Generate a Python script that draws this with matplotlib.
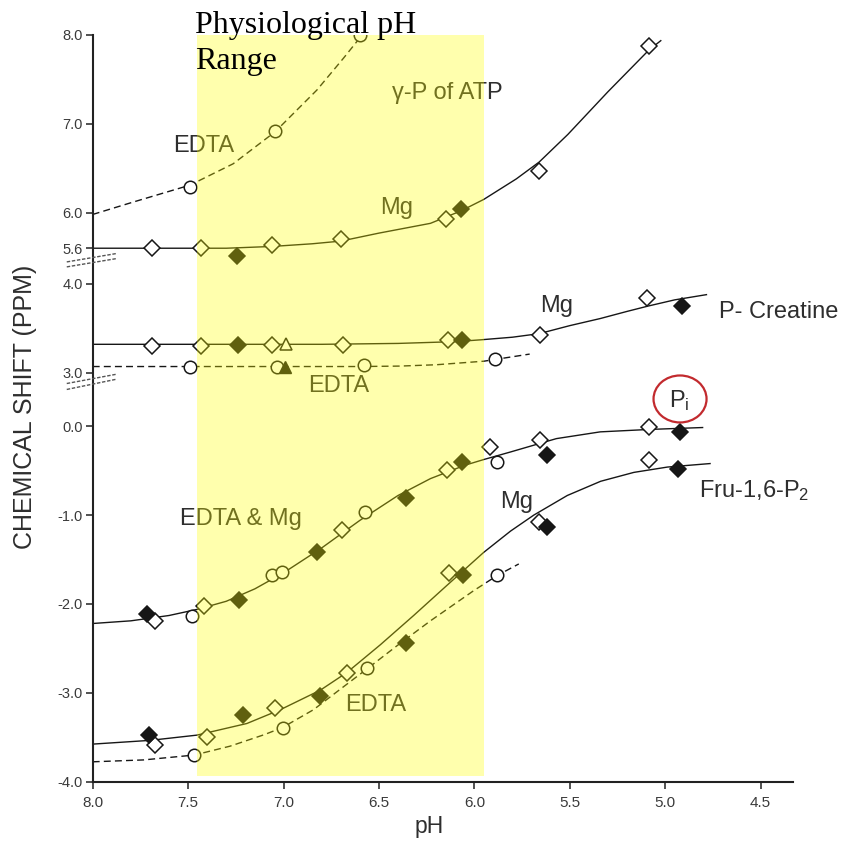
import numpy as np
import matplotlib
matplotlib.use("Agg")
import matplotlib.pyplot as plt
from matplotlib.patches import Ellipse

# ---------------- data (pH, chemical shift in ppm) ----------------
# gamma-P of ATP, Mg
atp_mg_open_ph = [7.69, 7.43, 7.06, 6.70, 6.15, 5.66, 5.085]
atp_mg_open_ppm = [5.60, 5.60, 5.64, 5.70, 5.93, 6.47, 7.88]
atp_mg_fill_ph = [7.245, 6.07]
atp_mg_fill_ppm = [5.51, 6.04]
atp_mg_curve_ph = [8.0, 7.6, 7.3, 7.06, 6.85, 6.70, 6.50, 6.23, 6.07, 5.95, 5.78, 5.66, 5.51, 5.30, 5.085, 5.02]
atp_mg_curve_ppm = [5.60, 5.60, 5.60, 5.62, 5.65, 5.68, 5.77, 5.88, 6.02, 6.15, 6.38, 6.57, 6.88, 7.36, 7.83, 7.94]
# gamma-P of ATP, EDTA
atp_edta_circ_ph = [7.49, 7.044, 6.60]
atp_edta_circ_ppm = [6.29, 6.92, 8.0]
atp_edta_curve_ph = [8.0, 7.787, 7.49, 7.264, 7.044, 6.825, 6.685, 6.58, 6.52]
atp_edta_curve_ppm = [5.98, 6.12, 6.31, 6.55, 6.91, 7.38, 7.74, 8.02, 8.2]

# P-Creatine, Mg
pcr_mg_open_ph = [7.69, 7.43, 7.06, 6.69, 6.14, 5.657, 5.093]
pcr_mg_open_ppm = [3.30, 3.30, 3.31, 3.31, 3.37, 3.43, 3.84]
pcr_mg_fill_ph = [7.236, 6.064, 4.91]
pcr_mg_fill_ppm = [3.31, 3.37, 3.75]
pcr_mg_tri_ph = [6.985]
pcr_mg_tri_ppm = [3.32]
pcr_mg_curve_ph = [8.0, 6.8, 6.4, 6.1, 5.97, 5.8, 5.66, 5.5, 5.34, 5.2, 5.09, 4.95, 4.78]
pcr_mg_curve_ppm = [3.32, 3.32, 3.33, 3.35, 3.37, 3.40, 3.44, 3.53, 3.61, 3.69, 3.75, 3.82, 3.88]
# P-Creatine, EDTA
pcr_edta_circ_ph = [7.49, 7.035, 6.58, 5.89]
pcr_edta_circ_ppm = [3.07, 3.07, 3.09, 3.16]
pcr_edta_tri_ph = [6.99]
pcr_edta_tri_ppm = [3.07]
pcr_edta_curve_ph = [8.0, 7.0, 6.6, 6.39, 6.2, 5.95, 5.71]
pcr_edta_curve_ppm = [3.07, 3.07, 3.07, 3.075, 3.09, 3.13, 3.21]

# Pi, EDTA & Mg
pi_open_ph = [7.673, 7.416, 6.694, 6.143, 5.919, 5.657, 5.085]
pi_open_ppm = [-2.19, -2.025, -1.17, -0.495, -0.233, -0.157, -0.008]
pi_fill_ph = [7.717, 7.231, 6.825, 6.36, 6.064, 5.618, 4.922]
pi_fill_ppm = [-2.115, -1.957, -1.414, -0.81, -0.40, -0.326, -0.064]
pi_circ_ph = [7.481, 7.061, 7.008, 6.571, 5.88]
pi_circ_ppm = [-2.137, -1.676, -1.639, -0.964, -0.40]
pi_curve_ph = [8.0, 7.8, 7.6, 7.45, 7.3, 7.15, 7.0, 6.8, 6.6, 6.4, 6.23, 6.05, 5.95, 5.81, 5.57, 5.34, 5.085, 4.80]
pi_curve_ppm = [-2.22, -2.19, -2.13, -2.06, -1.97, -1.83, -1.65, -1.37, -1.06, -0.78, -0.59, -0.44, -0.375, -0.29, -0.14, -0.064, -0.037, -0.015]

# Fru-1,6-P2, Mg
fru_mg_open_ph = [7.673, 7.402, 7.044, 6.667, 6.134, 5.662, 5.085]
fru_mg_open_ppm = [-3.588, -3.495, -3.176, -2.775, -1.65, -1.076, -0.375]
fru_mg_fill_ph = [7.705, 7.213, 6.811, 6.356, 6.059, 5.618, 4.931]
fru_mg_fill_ppm = [-3.476, -3.251, -3.037, -2.444, -1.676, -1.132, -0.487]
fru_mg_curve_ph = [8.0, 7.7, 7.454, 7.192, 7.017, 6.807, 6.667, 6.493, 6.318, 6.143, 5.951, 5.81, 5.688, 5.513, 5.338, 5.164, 4.988, 4.761]
fru_mg_curve_ppm = [-3.577, -3.535, -3.476, -3.345, -3.19, -2.97, -2.77, -2.46, -2.13, -1.79, -1.42, -1.18, -1.0, -0.78, -0.62, -0.52, -0.46, -0.42]
# Fru-1,6-P2, EDTA
fru_edta_circ_ph = [7.467, 7.005, 6.562, 5.88]
fru_edta_circ_ppm = [-3.70, -3.394, -2.72, -1.676]
fru_edta_curve_ph = [8.0, 7.734, 7.467, 7.28, 7.1, 7.005, 6.843, 6.703, 6.562, 6.405, 6.23, 6.003, 5.88, 5.767]
fru_edta_curve_ppm = [-3.776, -3.755, -3.70, -3.60, -3.47, -3.39, -3.19, -2.96, -2.73, -2.47, -2.19, -1.85, -1.68, -1.55]

# physiological pH band
band_ph = [7.454, 5.951]

x_ticks = [8.0, 7.5, 7.0, 6.5, 6.0, 5.5, 5.0, 4.5]
x_ticklabels = ["8.0", "7.5", "7.0", "6.5", "6.0", "5.5", "5.0", "4.5"]
y_ticks = [-4.0, -3.0, -2.0, -1.0, 0.0, 3.0, 4.0, 5.6, 6.0, 7.0, 8.0]
y_ticklabels = ["-4.0", "-3.0", "-2.0", "-1.0", "0.0", "3.0", "4.0", "5.6", "6.0", "7.0", "8.0"]

# ---------------- broken y axis as a piecewise-linear scale ----------------
V_KNOTS = [-50.0, 0.35, 2.75, 4.2, 5.4, 50.0]
D_KNOTS = [-50.0, 0.35, 0.351, 1.801, 1.802, 46.402]


def fwd(v):
    return np.interp(np.asarray(v, dtype=float), V_KNOTS, D_KNOTS)


def inv(d):
    return np.interp(np.asarray(d, dtype=float), D_KNOTS, V_KNOTS)


plt.rcParams["font.family"] = ["Liberation Sans", "DejaVu Sans"]
plt.rcParams["mathtext.fontset"] = "custom"
plt.rcParams["mathtext.rm"] = "Liberation Sans"
plt.rcParams["mathtext.it"] = "Liberation Sans:italic"

INK = "#161616"
TXT = "#2e2e2e"

fig = plt.figure(figsize=(8.56, 8.41), dpi=100)
ax = fig.add_axes([0.1083, 0.0705, 0.8181, 0.888])
ax.set_yscale("function", functions=(fwd, inv))
ax.set_xlim(8.0, 4.33)
ax.set_ylim(-4.0, 8.0)

solid = dict(color=INK, lw=1.0, zorder=2, solid_capstyle="butt", solid_joinstyle="round")
dashed = dict(color=INK, lw=1.0, zorder=2, ls=(0, (5, 3)))
open_d = dict(marker="D", ms=8, mfc="white", mec=INK, mew=1.1, ls="none", zorder=4)
fill_d = dict(marker="D", ms=8, mfc=INK, mec=INK, mew=1.1, ls="none", zorder=5)
circ = dict(marker="o", ms=9, mfc="white", mec=INK, mew=1.1, ls="none", zorder=4)

# curves
ax.plot(atp_mg_curve_ph, atp_mg_curve_ppm, **solid)
ax.plot(atp_edta_curve_ph, atp_edta_curve_ppm, **dashed)
ax.plot(pcr_mg_curve_ph, pcr_mg_curve_ppm, **solid)
ax.plot(pcr_edta_curve_ph, pcr_edta_curve_ppm, **dashed)
ax.plot(pi_curve_ph, pi_curve_ppm, **solid)
ax.plot(fru_mg_curve_ph, fru_mg_curve_ppm, **solid)
ax.plot(fru_edta_curve_ph, fru_edta_curve_ppm, **dashed)

# markers
ax.plot(atp_mg_open_ph, atp_mg_open_ppm, **open_d)
ax.plot(atp_mg_fill_ph, atp_mg_fill_ppm, **fill_d)
ax.plot(atp_edta_circ_ph, atp_edta_circ_ppm, **circ)
ax.plot(pcr_mg_open_ph, pcr_mg_open_ppm, **open_d)
ax.plot(pcr_mg_fill_ph, pcr_mg_fill_ppm, **fill_d)
ax.plot(pcr_mg_tri_ph, pcr_mg_tri_ppm, marker="^", ms=8, mfc="white", mec=INK, mew=1.1, ls="none", zorder=4)
ax.plot(pcr_edta_circ_ph, pcr_edta_circ_ppm, **circ)
ax.plot(pcr_edta_tri_ph, pcr_edta_tri_ppm, marker="^", ms=8, mfc=INK, mec=INK, ls="none", zorder=5)
ax.plot(pi_circ_ph, pi_circ_ppm, **circ)
ax.plot(pi_open_ph, pi_open_ppm, **open_d)
ax.plot(pi_fill_ph, pi_fill_ppm, **fill_d)
ax.plot(fru_edta_circ_ph, fru_edta_circ_ppm, **circ)
ax.plot(fru_mg_open_ph, fru_mg_open_ppm, **open_d)
ax.plot(fru_mg_fill_ph, fru_mg_fill_ppm, **fill_d)

# labels in the plot
lab = dict(fontsize=17, color=TXT, ha="left", va="baseline", zorder=6)
ax.text(6.431, 7.278, "γ-P of ATP", **lab)
ax.text(7.578, 6.686, "EDTA", **lab)
ax.text(6.493, 5.981, "Mg", **lab)
ax.text(5.653, 3.686, "Mg", **lab)
ax.text(4.718, 3.611, "P- Creatine", **lab)
ax.text(6.872, 2.786, "EDTA", **lab)
ax.text(4.98, 0.217, "P$_\\mathrm{i}$", **lab)
ax.text(7.541, -1.114, "EDTA & Mg", **lab)
ax.text(5.863, -0.926, "Mg", **lab)
ax.text(4.823, -0.795, "Fru-1,6-P$_\\mathrm{2}$", **lab)
ax.text(6.676, -3.206, "EDTA", **lab)

# red circle around Pi
ax.add_patch(Ellipse((0.8387, 0.5125), 0.0757, 0.0629, transform=ax.transAxes,
                     fill=False, ec="#c22a2e", lw=1.6, zorder=12, clip_on=False))

# physiological pH band (drawn on top, translucent)
ax.axvspan(band_ph[0], band_ph[1], ymin=0.007, ymax=1.0, color="#ffff00",
           alpha=0.32, lw=0, zorder=10)

# axis break marks
brk = dict(color="#555555", lw=1.0, ls=(0, (2.5, 1.2)), clip_on=False, zorder=3)
for (d1, d2) in [(1.848, 1.943), (1.792, 1.886), (0.48, 0.585), (0.413, 0.529)]:
    ax.plot([8.136, 7.874], inv([d1, d2]), **brk)

# axes styling
for s in ("top", "right"):
    ax.spines[s].set_visible(False)
for s in ("left", "bottom"):
    ax.spines[s].set_linewidth(1.5)
    ax.spines[s].set_color("#222222")
ax.set_xticks(x_ticks)
ax.set_xticklabels(x_ticklabels)
ax.set_yticks(y_ticks)
ax.set_yticklabels(y_ticklabels)
ax.minorticks_off()
ax.tick_params(axis="both", direction="out", length=5, width=1.1, color="#222222",
               labelsize=10.5, labelcolor="#3a3a3a")
ax.tick_params(axis="x", pad=5, labelsize=11)
ax.tick_params(axis="y", pad=2)

ax.set_ylabel("CHEMICAL SHIFT (PPM)", fontsize=18, color=TXT)
ax.yaxis.set_label_coords(-0.0967, 0.502)
ax.yaxis.label.set_va("center")
ax.set_xlabel("pH", fontsize=16.5, color=TXT)
ax.xaxis.set_label_coords(0.48, -0.060)
ax.xaxis.label.set_va("center")

fig.text(0.2278, 0.987, "Physiological pH\nRange", fontsize=23,
         family=["Liberation Serif", "DejaVu Serif"], color="black",
         ha="left", va="top", linespacing=1.32, zorder=20)

fig.savefig("out.png", dpi=100)
